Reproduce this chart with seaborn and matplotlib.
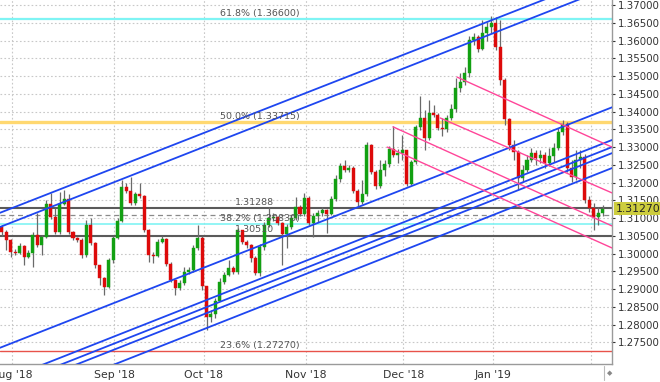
import numpy as np
import pandas as pd
import matplotlib
matplotlib.use("Agg")
import matplotlib.pyplot as plt
from matplotlib.lines import Line2D
import matplotlib.transforms as mtransforms
import seaborn as sns

# --- daily candles (USD/CAD, Aug 2018 - Feb 2019), open = previous close
first_open = 1.3075
closes = [
    1.3061, 1.3039, 1.3004, 1.3002, 1.3022, 1.2990, 1.3002, 1.3053, 1.3025, 1.3047,
    1.3140, 1.3103, 1.3061, 1.3140, 1.3154, 1.3061, 1.3045, 1.3039, 1.2996, 1.3081,
    1.3031, 1.2968, 1.2932, 1.2906, 1.2982, 1.3045, 1.3092, 1.3187, 1.3176, 1.3143,
    1.3168, 1.3162, 1.3067, 1.2996, 1.2993, 1.3033, 1.3042, 1.2971, 1.2926, 1.2904,
    1.2918, 1.2948, 1.2954, 1.3016, 1.3045, 1.2909, 1.2822, 1.2830, 1.2867, 1.2920,
    1.2940, 1.2960, 1.2948, 1.3067, 1.3033, 1.3025, 1.2987, 1.2946, 1.3019, 1.3081,
    1.3101, 1.3103, 1.3087, 1.3056, 1.3075, 1.3101, 1.3131, 1.3112, 1.3157, 1.3087,
    1.3106, 1.3115, 1.3123, 1.3112, 1.3154, 1.3210, 1.3247, 1.3236, 1.3241, 1.3176,
    1.3145, 1.3168, 1.3306, 1.3230, 1.3190, 1.3236, 1.3253, 1.3295, 1.3278, 1.3284,
    1.3292, 1.3196, 1.3258, 1.3357, 1.3382, 1.3326, 1.3396, 1.3390, 1.3354, 1.3351,
    1.3382, 1.3407, 1.3466, 1.3483, 1.3508, 1.3601, 1.3610, 1.3576, 1.3621, 1.3638,
    1.3649, 1.3582, 1.3489, 1.3379, 1.3306, 1.3287, 1.3213, 1.3236, 1.3264, 1.3284,
    1.3270, 1.3278, 1.3255, 1.3275, 1.3298, 1.3343, 1.3365, 1.3241, 1.3216, 1.3264,
    1.3272, 1.3151, 1.3128, 1.3103, 1.3115, 1.3127,
]
highs = [
    1.3081, 1.3066, 1.3042, 1.3013, 1.3031, 1.3025, 1.3010, 1.3061, 1.3115, 1.3053,
    1.3151, 1.3171, 1.3128, 1.3173, 1.3179, 1.3168, 1.3064, 1.3047, 1.3045, 1.3095,
    1.3101, 1.3033, 1.2968, 1.2934, 1.2987, 1.3050, 1.3101, 1.3207, 1.3199, 1.3216,
    1.3173, 1.3199, 1.3165, 1.3070, 1.3004, 1.3042, 1.3050, 1.3045, 1.2976, 1.2926,
    1.2926, 1.2962, 1.2962, 1.3025, 1.3081, 1.3050, 1.2884, 1.2841, 1.2875, 1.2932,
    1.2948, 1.2982, 1.2965, 1.3073, 1.3061, 1.3039, 1.3028, 1.2993, 1.3028, 1.3089,
    1.3131, 1.3115, 1.3106, 1.3089, 1.3084, 1.3109, 1.3159, 1.3137, 1.3171, 1.3162,
    1.3115, 1.3123, 1.3131, 1.3126, 1.3162, 1.3221, 1.3255, 1.3264, 1.3250, 1.3247,
    1.3182, 1.3207, 1.3314, 1.3309, 1.3236, 1.3264, 1.3264, 1.3303, 1.3359, 1.3295,
    1.3334, 1.3292, 1.3264, 1.3362, 1.3444, 1.3404, 1.3433, 1.3418, 1.3396, 1.3382,
    1.3390, 1.3421, 1.3494, 1.3508, 1.3525, 1.3613, 1.3621, 1.3615, 1.3658, 1.3652,
    1.3669, 1.3666, 1.3658, 1.3494, 1.3382, 1.3320, 1.3292, 1.3250, 1.3278, 1.3298,
    1.3292, 1.3292, 1.3287, 1.3298, 1.3312, 1.3354, 1.3376, 1.3371, 1.3264, 1.3292,
    1.3292, 1.3281, 1.3162, 1.3143, 1.3131, 1.3137,
]
lows = [
    1.3050, 1.3010, 1.2990, 1.2996, 1.2999, 1.2968, 1.2987, 1.2962, 1.3019, 1.2996,
    1.3045, 1.3098, 1.3056, 1.3056, 1.3137, 1.3056, 1.3039, 1.3033, 1.2987, 1.2990,
    1.3025, 1.2960, 1.2912, 1.2884, 1.2904, 1.2974, 1.3042, 1.3089, 1.3171, 1.3137,
    1.3137, 1.3157, 1.3061, 1.2976, 1.2974, 1.2990, 1.3031, 1.2965, 1.2920, 1.2884,
    1.2898, 1.2912, 1.2943, 1.2948, 1.3010, 1.2898, 1.2785, 1.2807, 1.2819, 1.2870,
    1.2915, 1.2937, 1.2943, 1.2943, 1.3028, 1.3016, 1.2976, 1.2940, 1.2937, 1.3010,
    1.3075, 1.3092, 1.3081, 1.2968, 1.3016, 1.3070, 1.3095, 1.3106, 1.3106, 1.3081,
    1.3047, 1.3089, 1.3106, 1.3059, 1.3109, 1.3148, 1.3201, 1.3230, 1.3230, 1.3171,
    1.3131, 1.3140, 1.3162, 1.3225, 1.3182, 1.3185, 1.3219, 1.3244, 1.3272, 1.3255,
    1.3264, 1.3190, 1.3193, 1.3253, 1.3348, 1.3292, 1.3320, 1.3385, 1.3348, 1.3331,
    1.3343, 1.3376, 1.3398, 1.3455, 1.3475, 1.3497, 1.3587, 1.3568, 1.3573, 1.3598,
    1.3621, 1.3573, 1.3475, 1.3362, 1.3292, 1.3264, 1.3179, 1.3201, 1.3230, 1.3258,
    1.3250, 1.3255, 1.3241, 1.3247, 1.3258, 1.3292, 1.3334, 1.3230, 1.3201, 1.3207,
    1.3241, 1.3143, 1.3117, 1.3067, 1.3081, 1.3106,
]

# month labels and their bar positions
month_labels = ["Aug '18", "Sep '18", "Oct '18", "Nov '18", "Dec '18", "Jan '19", ""]
month_pos = [2.3, 25.2, 45.4, 68.4, 90.2, 110.4, 132.4]

# fibonacci / horizontal levels
fib_labels = ["61.8% (1.36600)", "50.0% (1.33715)", "38.2% (1.30830)", "23.6% (1.27270)"]
fib_levels = [1.36600, 1.33715, 1.30830, 1.27270]
fib_colors = ["#7ff4f4", "#ffd870", "#80f4f4", "#e8524a"]
fib_widths = [1.6, 2.4, 1.2, 1.0]
sr_levels = [1.31288, 1.30510]
dashed_level = 1.3109
last_price = 1.31270

# channel lines (rising, blue): start x, start y, end x, end y
blue_x0 = [-0.4, -0.4, -0.4, -0.4, -0.4, -0.4, -0.4]
blue_y0 = [1.3115, 1.3075, 1.2735, 1.2640, 1.2620, 1.2603, 1.2561]
blue_x1 = [137.1, 137.1, 137.1, 137.1, 137.1, 137.1, 137.1]
blue_y1 = [1.3790, 1.3752, 1.3412, 1.3320, 1.3300, 1.3283, 1.3241]

# falling lines (pink)
pink_x0 = [102.3, 98.5, 87.9, 86.6]
pink_y0 = [1.3497, 1.3382, 1.3357, 1.3300]
pink_x1 = [137.1, 137.1, 137.1, 137.1]
pink_y1 = [1.3300, 1.3171, 1.3078, 1.3016]

sns.set_theme(style="white")
plt.rcParams["font.family"] = ["DejaVu Sans"]

fig = plt.figure(figsize=(6.6, 3.82), dpi=100)
ax = fig.add_axes([0.0, 0.0471, 0.9273, 0.9529])

x0, x1 = -0.4, 137.1
ax.set_xlim(x0, x1)
ax.set_ylim(1.26893, 1.37141)

# grid
yticks = np.arange(1.275, 1.3701, 0.005)
ax.set_yticks(yticks)
ax.set_xticks(month_pos)
ax.set_xticklabels(month_labels)
ax.grid(True, linestyle=(0, (1.5, 2)), color="#c8c8c8", linewidth=0.8)
ax.set_axisbelow(True)

ax.yaxis.tick_right()
ax.set_yticklabels([f"{v:.5f}" for v in yticks])
ax.tick_params(axis="y", labelsize=7.4, colors="#333333", length=2, width=0.8,
               pad=2, direction="out", right=True, labelright=True, left=False)
ax.tick_params(axis="x", labelsize=7.8, colors="#333333", length=0, pad=4)
for side in ["left", "top"]:
    ax.spines[side].set_visible(False)
for side in ["right", "bottom"]:
    ax.spines[side].set_color("#9a9a9a")
    ax.spines[side].set_linewidth(1)

# horizontal levels
for lvl, col, lw in zip(fib_levels, fib_colors, fib_widths):
    ax.axhline(lvl, color=col, lw=lw, zorder=1)
for lvl in sr_levels:
    ax.axhline(lvl, color="#5a5a5a", lw=1.5, zorder=1)
ax.axhline(dashed_level, color="#8a8a8a", lw=0.9, ls=(0, (4, 3)), zorder=1)

for lab, lvl in zip(fib_labels, fib_levels):
    ax.text(49.0, lvl + 0.0003, lab, fontsize=6.8, color="#555555", va="bottom", ha="left", zorder=6)
for lvl in sr_levels:
    ax.text(52.4, lvl + 0.0003, f"{lvl:.5f}", fontsize=6.8, color="#555555", va="bottom", ha="left", zorder=6)

# candles
opens = [first_open] + closes[:-1]
df = pd.DataFrame({"o": opens, "h": highs, "l": lows, "c": closes})
df["x"] = np.arange(len(df))
for _, r in df.iterrows():
    up = r.c >= r.o
    col = "#12a012" if up else "#dd0a0a"
    lo = min(r.l, r.o, r.c)
    hi = max(r.h, r.o, r.c)
    ax.vlines(r.x, lo, hi, color="#6a6a6a", lw=0.9, zorder=3)
    body = max(abs(r.c - r.o), 0.00012)
    ax.bar(r.x, body, bottom=min(r.o, r.c), width=0.68, color=col, edgecolor=col,
           linewidth=0.3, zorder=4)

# trend lines
for a, b, c, d in zip(blue_x0, blue_y0, blue_x1, blue_y1):
    sns.lineplot(x=[a, c], y=[b, d], ax=ax, color="#1e46f0", lw=1.3, zorder=5)
for a, b, c, d in zip(pink_x0, pink_y0, pink_x1, pink_y1):
    sns.lineplot(x=[a, c], y=[b, d], ax=ax, color="#ff4599", lw=1.0, zorder=5)
ax.set_xlim(x0, x1)
ax.set_ylim(1.26893, 1.37141)
ax.set_xlabel("")
ax.set_ylabel("")

# last price tag
trans = mtransforms.blended_transform_factory(ax.transAxes, ax.transData)
ax.text(1.006, last_price, f"{last_price:.5f}", transform=trans, fontsize=7.8,
        color="#222222", va="center", ha="left", zorder=10, clip_on=False,
        bbox=dict(boxstyle="square,pad=0.18", fc="#cdcd3e", ec="none"))

# small scroll marker bottom-right
fig.add_artist(Line2D([0.9155, 0.9155], [0.005, 0.042], color="#bbbbbb", lw=0.8,
                      transform=fig.transFigure))
fig.text(0.924, 0.022, "\u25c6", fontsize=5, color="#888888", ha="center", va="center")

fig.savefig("out.png", dpi=100)
